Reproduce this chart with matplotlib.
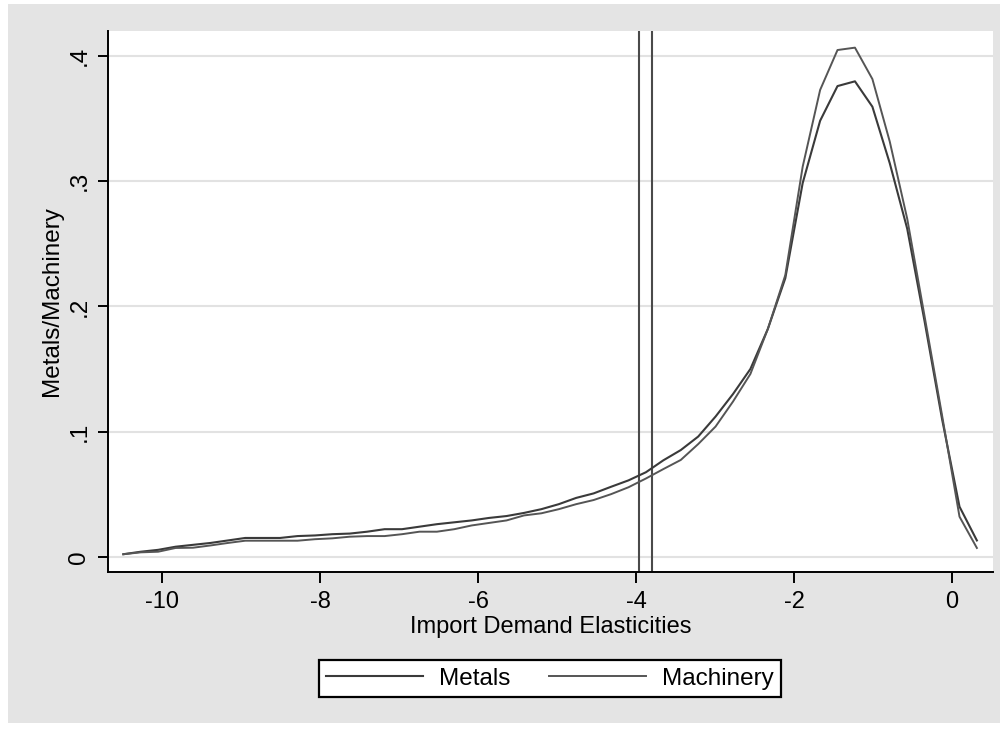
import matplotlib
matplotlib.use("Agg")
import matplotlib.pyplot as plt
from matplotlib.patches import Rectangle

plt.rcParams['font.family'] = ['Liberation Sans', 'DejaVu Sans']

# Evaluation grid of the kernel densities (import demand elasticities)
elasticity = [-10.494, -10.273, -10.053, -9.832, -9.612, -9.391, -9.170, -8.950, -8.729, -8.509,
              -8.288, -8.067, -7.847, -7.626, -7.406, -7.185, -6.965, -6.744, -6.523, -6.303,
              -6.082, -5.862, -5.641, -5.420, -5.200, -4.979, -4.759, -4.538, -4.317, -4.097,
              -3.876, -3.656, -3.435, -3.214, -2.994, -2.773, -2.553, -2.332, -2.111, -1.891,
              -1.670, -1.450, -1.229, -1.008, -0.788, -0.567, -0.347, -0.126, 0.095, 0.315]

metals = [0.002, 0.004, 0.0055, 0.008, 0.0095, 0.011, 0.013, 0.015, 0.015, 0.015,
          0.0165, 0.017, 0.018, 0.0185, 0.020, 0.022, 0.022, 0.024, 0.026, 0.0275,
          0.029, 0.031, 0.0325, 0.035, 0.038, 0.042, 0.047, 0.0506, 0.0559, 0.061,
          0.0675, 0.077, 0.0852, 0.096, 0.112, 0.130, 0.150, 0.182, 0.2225, 0.2985,
          0.3483, 0.376, 0.3798, 0.3595, 0.3143, 0.262, 0.188, 0.110, 0.040, 0.013]

machinery = [0.002, 0.0035, 0.004, 0.007, 0.0072, 0.009, 0.011, 0.0128, 0.0128, 0.0128,
             0.0128, 0.014, 0.0147, 0.016, 0.0165, 0.0165, 0.018, 0.020, 0.020, 0.022,
             0.025, 0.027, 0.029, 0.033, 0.0347, 0.038, 0.042, 0.0453, 0.050, 0.0555,
             0.0625, 0.070, 0.0773, 0.090, 0.104, 0.124, 0.146, 0.182, 0.225, 0.3116,
             0.3729, 0.4048, 0.4067, 0.3816, 0.3316, 0.270, 0.192, 0.113, 0.032, 0.007]

vlines_x = [-3.97, -3.80]

xticks = [-10, -8, -6, -4, -2, 0]
xticklabels = ['-10', '-8', '-6', '-4', '-2', '0']
yticks = [0, 0.1, 0.2, 0.3, 0.4]
yticklabels = ['0', '.1', '.2', '.3', '.4']

W, H = 1005, 731
fig = plt.figure(figsize=(W / 100, H / 100), dpi=100)
fig.patch.set_facecolor('white')

# gray graph region
fig.patches.append(Rectangle((8 / W, 1 - 723 / H), (1000 - 8) / W, (723 - 4) / H,
                             transform=fig.transFigure, facecolor='#e4e4e4',
                             edgecolor='none', zorder=-10))

ax = fig.add_axes([107.7 / W, 1 - 572 / H, (993.3 - 107.7) / W, (572 - 31) / H])
ax.set_zorder(1)
ax.set_facecolor('white')

for v in yticks:
    ax.axhline(v, color='#e2e2e2', lw=1.5, zorder=1)

l1, = ax.plot(elasticity, metals, color='#3a3a3a', lw=1.5, zorder=3, label='Metals')
l2, = ax.plot(elasticity, machinery, color='#555555', lw=1.4, zorder=3, label='Machinery')
for v in vlines_x:
    ax.axvline(v, color='#4a4a4a', lw=1.5, zorder=2)

ax.set_xlim(-10.692, 0.523)
ax.set_ylim(-0.0122, 0.42)
ax.set_xticks(xticks)
ax.set_xticklabels(xticklabels)
ax.set_yticks(yticks)
ax.set_yticklabels(yticklabels, rotation=90, va='center')

for s in ['top', 'right']:
    ax.spines[s].set_visible(False)
for s in ['left', 'bottom']:
    ax.spines[s].set_linewidth(1.4)
    ax.spines[s].set_color('black')

ax.tick_params(axis='x', direction='out', length=8, width=1.4, labelsize=17, pad=6)
ax.tick_params(axis='y', direction='out', length=7.5, width=1.4, labelsize=17.5, pad=5)

ax.set_xlabel('Import Demand Elasticities', fontsize=17, labelpad=2)
ax.set_ylabel('Metals/Machinery', fontsize=17.5, labelpad=4)

leg = fig.legend(handles=[l1, l2], loc='center', bbox_to_anchor=(550 / W, 1 - 678.5 / H),
                 ncol=2, fontsize=17.5, frameon=True, fancybox=False, edgecolor='black',
                 framealpha=1, handlelength=4.0, handletextpad=0.65, columnspacing=1.6,
                 borderpad=0.3, borderaxespad=0)
leg.get_frame().set_linewidth(1.6)
leg.get_frame().set_facecolor('white')
leg.set_zorder(5)

fig.savefig('out.png', dpi=100)
